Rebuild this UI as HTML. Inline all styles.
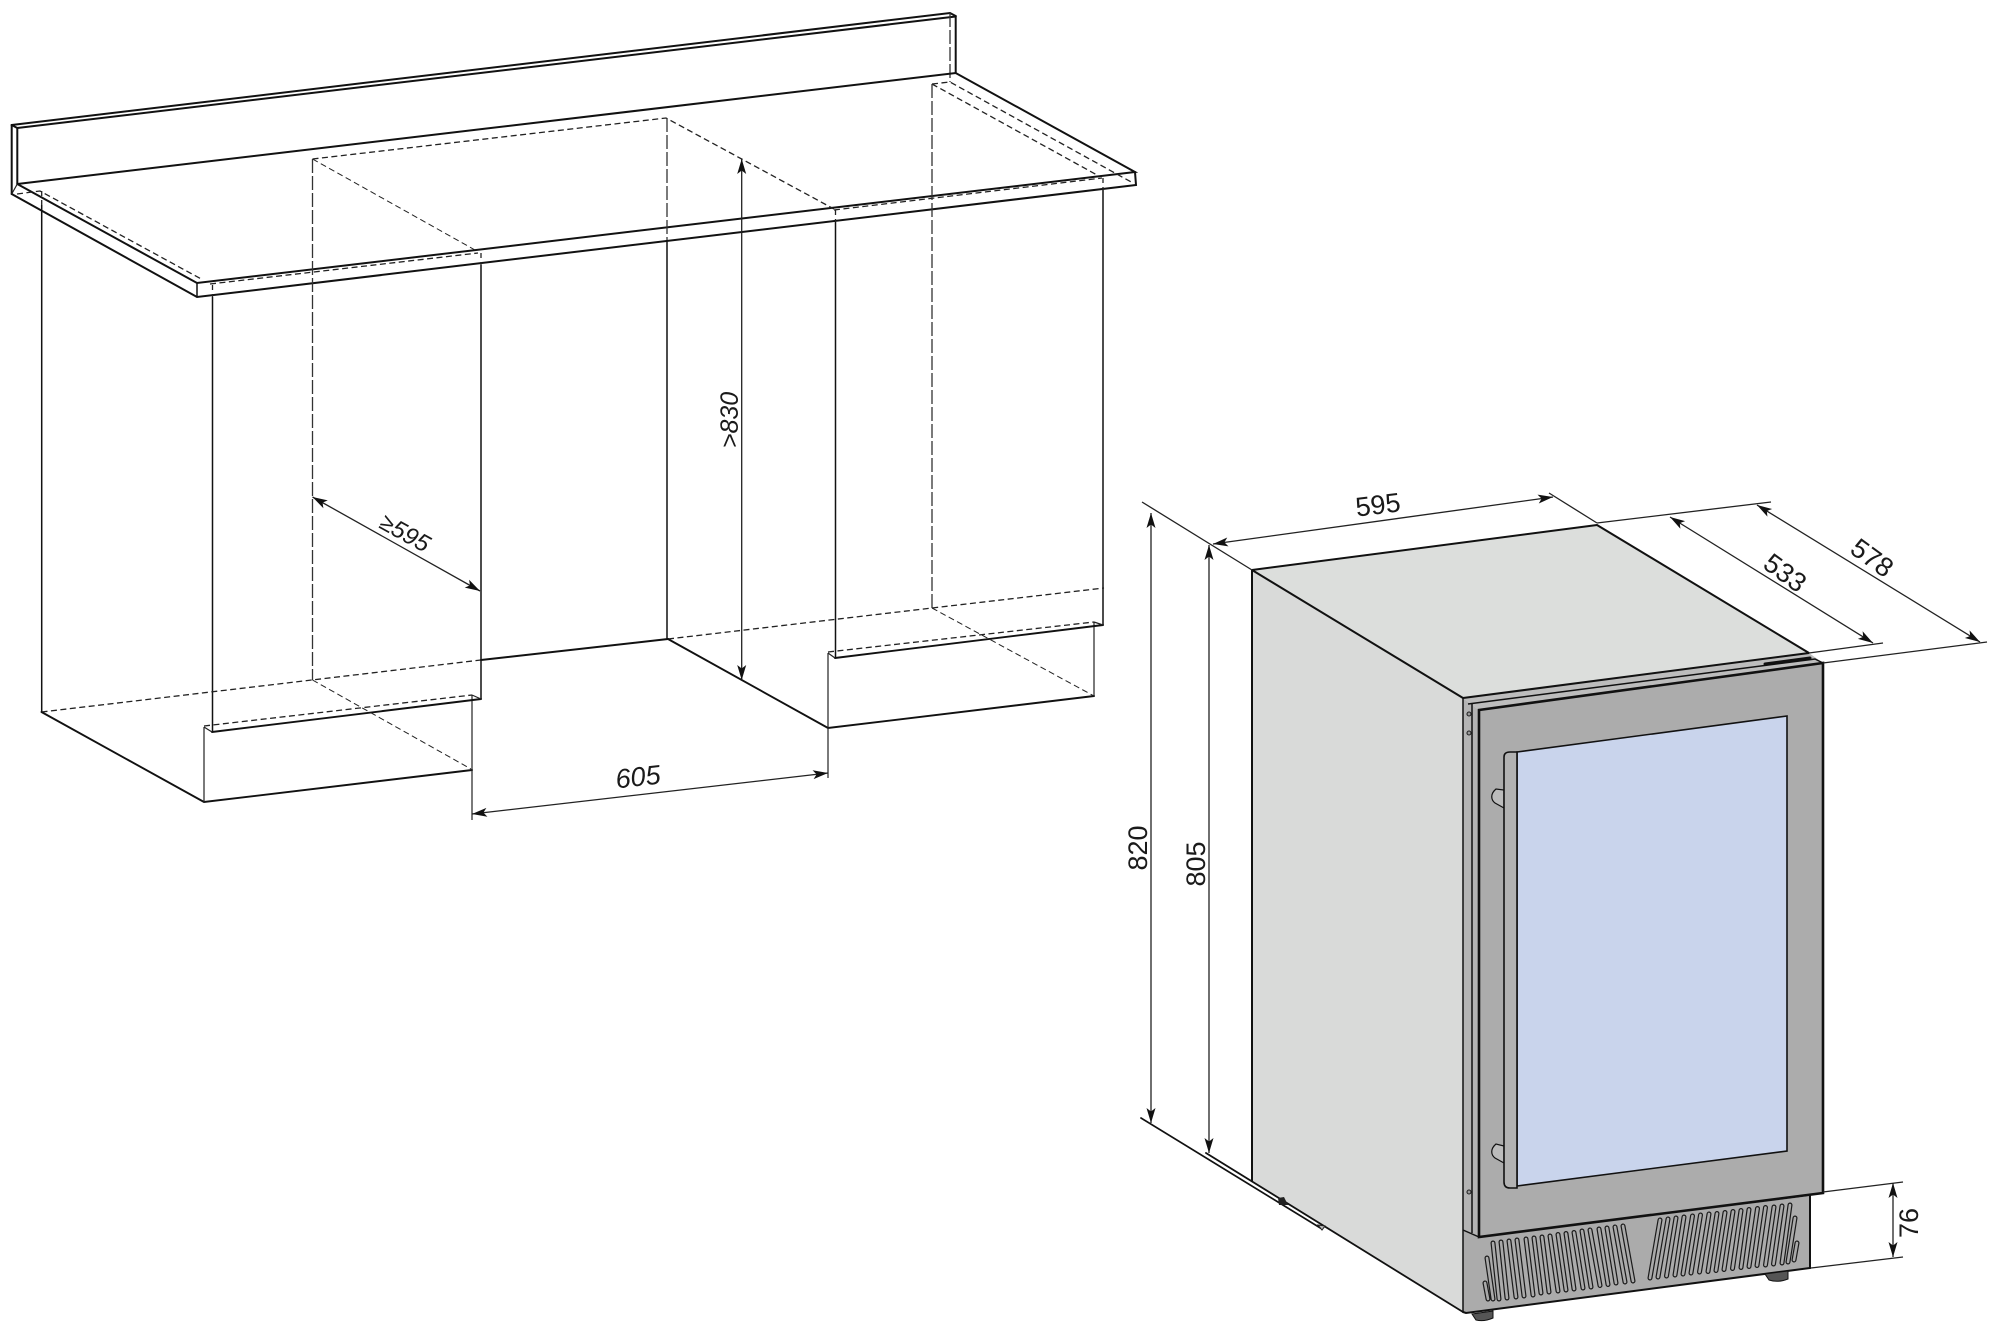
<!DOCTYPE html>
<html><head><meta charset="utf-8"><title>Installation diagram</title>
<style>
html,body{margin:0;padding:0;background:#fff;}
svg{display:block;}
text{font-family:"Liberation Sans",sans-serif;fill:#1a1a1a;text-anchor:middle;}
.k{stroke:#111;stroke-width:2;fill:none;stroke-linecap:round;}
.s{stroke:#111;stroke-width:1.5;fill:none;}
.t{stroke:#222;stroke-width:1.2;fill:none;}
.d{stroke:#222;stroke-width:1.3;fill:none;stroke-dasharray:6 3.5;}
.l{stroke:#333;stroke-width:1.3;fill:none;stroke-dasharray:14 3;}
.a{stroke:#222;stroke-width:1.3;fill:none;marker-start:url(#ar);marker-end:url(#ar);}
.e{stroke:#222;stroke-width:1.3;fill:none;}
.p{stroke:#111;stroke-width:2;stroke-linejoin:round;}
</style></head>
<body>
<svg width="2000" height="1332" viewBox="0 0 2000 1332" xmlns="http://www.w3.org/2000/svg">
<defs>
<marker id="ar" markerUnits="userSpaceOnUse" markerWidth="24" markerHeight="14" refX="18" refY="7" orient="auto-start-reverse" overflow="visible">
<path d="M18,7 L3,2.5 L6.5,7 L3,11.5 Z" fill="#111"/>
</marker>
</defs>
<rect width="2000" height="1332" fill="#fff"/>

<!-- LEFT: counter -->
<g>
<path class="k" d="M11.7,125 L950,13 L955.7,16"/>
<path class="k" d="M17.3,128 L955.7,16.5"/>
<path class="k" d="M11.7,125 L17.3,128"/>
<path class="k" d="M11.7,125 V194 M17.3,128 V184"/>
<path class="k" d="M955.7,16 V73"/>
<path class="l" d="M950,13 V82"/>
<path class="k" d="M17.3,184 L955.7,73 L1135,172 L197,283 L17.3,184"/>
<path class="k" d="M11.7,194 L197,297 L1136,185 L1135,172"/>
<path class="t" d="M11.7,194 L17.3,184"/>
<path class="s" d="M197,283 V297"/>

<path class="d" d="M17,194 L40,191 L203,280"/>
<path class="d" d="M210,284 L478,253"/>
<path class="d" d="M834,210 L1102,178"/>
<path class="d" d="M312.5,159 L666,118 L834,209"/>
<path class="d" style="stroke-width:1" d="M312.5,159 L475,250"/>
<path class="d" d="M932,84 L950,82 L1133,183"/>
<path class="d" d="M932,84 L1097,175"/>
<path class="l" d="M312.5,159 V680"/>
<path class="l" d="M667,118 V240"/>
<path class="l" d="M932,84 V608"/>

<path class="d" style="stroke-dasharray:5 4" d="M41.7,191 V205"/>
<path class="s" d="M41.7,205 V712"/>
<path class="d" style="stroke-dasharray:5 4" d="M212.5,285 V297"/>
<path class="s" d="M212.5,297 V731"/>
<path class="d" style="stroke-dasharray:5 4" d="M481,253 V265"/>
<path class="s" d="M481,265 V699"/>
<path class="s" d="M667,240 V639"/>
<path class="d" style="stroke-dasharray:5 4" d="M835.5,210 V222"/>
<path class="s" d="M835.5,222 V657"/>
<path class="d" style="stroke-dasharray:5 4" d="M1103,178 V190"/>
<path class="s" d="M1103,190 V625"/>

<path class="d" d="M41.5,712 L481,660"/>
<path class="k" d="M481,660 L668,639"/>
<path class="d" d="M668,639 L932,608 L1104,588"/>
<path class="k" style="stroke-width:1.9" d="M41.5,712 L204,802 L472,770"/>
<path class="k" style="stroke-width:1.9" d="M668,639 L828,728 L1094,696"/>
<path class="t" d="M204,727 V802 M472,695 V820"/>
<path class="t" d="M828,653 V778 M1094,622 V696"/>
<path class="d" d="M204,726 L472,695"/>
<path class="k" style="stroke-width:1.9" d="M212,732 L481,699"/>
<path class="t" d="M204,727 L212,732 M472,695 L481,699"/>
<path class="d" d="M828,652 L1094,622"/>
<path class="k" style="stroke-width:1.9" d="M835,658 L1103,625"/>
<path class="t" d="M828,653 L835,658 M1094,622 L1103,625"/>
<path class="d" style="stroke-width:1" d="M312.5,680 L471,769"/>
<path class="d" style="stroke-width:1" d="M932,608 L1094,696"/>

<path class="a" d="M741.7,159 V680"/>
<path class="a" d="M312.5,497 L480,591"/>
<path class="a" d="M472,814 L828,773"/>
<text font-size="25" font-style="italic" transform="translate(729,420) rotate(-90)" y="9">&gt;830</text>
<text font-size="24" font-style="italic" transform="translate(405,533) rotate(29)" y="8">≥595</text>
<text font-size="27" font-style="italic" transform="translate(638,777) rotate(-6.5)" y="9">605</text>
</g>

<!-- RIGHT: appliance -->
<g>
<polygon points="1252,570 1463,698 1463,1312 1252,1182" fill="#d9dad9"/>
<polygon points="1252,570 1597,525 1809,653 1463,698" fill="#dcdedc"/>
<polygon points="1463,698 1809,653 1823,663 1479,710" fill="#bdbdbd"/>
<polygon points="1463,698 1479,710 1479,1237 1463,1230" fill="#b4b4b4"/>
<polygon points="1463,1230 1479,1237 1810,1196 1810,1268 1466,1313 1463,1312" fill="#ababab"/>
<polygon points="1479,710 1823,663 1823,1193 1479,1237" fill="#acacac"/>
<polygon points="1517,752 1787,716 1787,1151 1517,1186" fill="#c9d4ec" stroke="#111" stroke-width="1.6"/>

<path class="p" fill="none" d="M1252,570 L1597,525 L1809,653"/>
<path class="p" fill="none" d="M1252,570 V1182"/>
<path class="p" fill="none" stroke-width="1.6" d="M1252,570 L1463,698 L1809,653"/>
<path class="s" d="M1463,698 V1312 M1472,703 V1233"/>
<path class="s" d="M1468,704 L1815,659 L1823,663"/>
<path class="k" style="stroke-width:3" d="M1765,664 L1810,658"/>
<path class="k" style="stroke-width:2.6" d="M1479,710 L1823,663 V1193 L1479,1237 Z"/>
<path class="k" d="M1810,1196 V1268 L1466,1313 L1463,1312"/>
<path class="s" d="M1463,1230 L1479,1237"/>

<!-- handle -->
<path d="M1496,789 C1490,794 1491,800 1495,803 L1504,808 V790 Z" fill="#bcbcbc" stroke="#111" stroke-width="1.2"/>
<path d="M1496,1144 C1490,1149 1491,1155 1495,1158 L1504,1163 V1146 Z" fill="#bcbcbc" stroke="#111" stroke-width="1.2"/>
<path d="M1504,757 Q1504,752 1510,752 L1517,752 V1188 L1510,1188 Q1504,1188 1504,1182 Z" fill="#b2b2b2" stroke="#111" stroke-width="1.6"/>

<!-- screws -->
<g fill="#999" stroke="#222" stroke-width="1.1">
<circle cx="1469" cy="714" r="2"/><circle cx="1469" cy="733" r="2"/><circle cx="1469" cy="1192" r="2"/>
</g>

<!-- feet -->
<path d="M1472,1314 L1493,1311 V1318 Q1484,1322 1476,1320 Z" fill="#555" stroke="#111" stroke-width="1"/>
<path d="M1765,1274 L1788,1271 V1279 Q1778,1283 1769,1280 Z" fill="#555" stroke="#111" stroke-width="1"/>

<!-- vents -->
<path id="v" fill="none" stroke="#1a1a1a" stroke-width="5" stroke-linecap="round" d="M1493,1243L1499,1299M1501,1242L1507,1298M1509,1241L1516,1297M1517,1240L1524,1296M1526,1239L1533,1295M1534,1238L1541,1293M1542,1237L1549,1292M1550,1236L1558,1291M1558,1234.5L1566,1290M1566,1233.5L1574,1289M1574,1232.5L1583,1288M1582,1231L1591,1287M1590,1230L1600,1285.5M1599,1229L1608,1284.5M1607,1228L1616,1283M1615,1227L1625,1282M1623,1226L1633,1281M1487,1258L1493,1299M1485,1283L1488,1299M1660,1220L1650,1278M1668,1219L1658,1277M1676,1218L1666.5,1276M1684,1217L1675,1275M1692.5,1216L1683,1274M1700.5,1215L1691,1273M1709,1214L1699.5,1272M1717,1213.5L1708,1271.5M1725,1212.5L1716,1270.5M1733,1211.5L1724,1269.5M1741,1210.5L1732.5,1268.5M1749,1209.5L1741,1267.5M1757.5,1208.5L1749,1266.5M1765.5,1207.5L1757,1265.5M1774,1207L1765.5,1265M1782,1206L1773.5,1264M1790,1205L1782,1263M1795,1218L1788,1262M1797,1243L1794,1260"/>
<path fill="none" stroke="#a9a9a9" stroke-width="2.6" stroke-linecap="round" d="M1493,1243L1499,1299M1501,1242L1507,1298M1509,1241L1516,1297M1517,1240L1524,1296M1526,1239L1533,1295M1534,1238L1541,1293M1542,1237L1549,1292M1550,1236L1558,1291M1558,1234.5L1566,1290M1566,1233.5L1574,1289M1574,1232.5L1583,1288M1582,1231L1591,1287M1590,1230L1600,1285.5M1599,1229L1608,1284.5M1607,1228L1616,1283M1615,1227L1625,1282M1623,1226L1633,1281M1487,1258L1493,1299M1485,1283L1488,1299M1660,1220L1650,1278M1668,1219L1658,1277M1676,1218L1666.5,1276M1684,1217L1675,1275M1692.5,1216L1683,1274M1700.5,1215L1691,1273M1709,1214L1699.5,1272M1717,1213.5L1708,1271.5M1725,1212.5L1716,1270.5M1733,1211.5L1724,1269.5M1741,1210.5L1732.5,1268.5M1749,1209.5L1741,1267.5M1757.5,1208.5L1749,1266.5M1765.5,1207.5L1757,1265.5M1774,1207L1765.5,1265M1782,1206L1773.5,1264M1790,1205L1782,1263M1795,1218L1788,1262M1797,1243L1794,1260"/>

<!-- extension lines -->
<path class="e" d="M1142,502 L1252,570"/>
<path class="e" d="M1549,493 L1597,523"/>
<path class="e" d="M1597,523 L1771,502"/>
<path class="e" d="M1809,653 L1883,643"/>
<path class="e" d="M1823,663 L1987,642"/>
<path class="k" style="stroke-width:1.7" d="M1141,1118 L1322,1229"/>
<path class="k" style="stroke-width:1.8" d="M1206,1153 L1463,1312"/>
<path d="M1278,1198 L1284,1197 L1288,1205 L1279,1205 Z" fill="#222"/>
<path d="M1318,1225 L1325,1226 L1322,1230 Z" fill="#bbb" stroke="#222" stroke-width="1"/>
<path class="e" d="M1823,1192 L1903,1182"/>
<path class="e" d="M1811,1268 L1903,1257"/>

<path class="a" d="M1151,513 V1123"/>
<path class="a" d="M1209,545 V1153"/>
<path class="a" d="M1213,544 L1553,497"/>
<path class="a" d="M1670,517 L1873,643"/>
<path class="a" d="M1757,505 L1980,642"/>
<path class="a" d="M1893,1183 V1257"/>

<text font-size="27" transform="translate(1378,505) rotate(-7)" y="9">595</text>
<text font-size="27" transform="translate(1785,573) rotate(36)" y="9">533</text>
<text font-size="27" transform="translate(1872,558) rotate(36)" y="9">578</text>
<text font-size="27" transform="translate(1138,848) rotate(-90)" y="9">820</text>
<text font-size="27" transform="translate(1196,864) rotate(-90)" y="9">805</text>
<text font-size="27" transform="translate(1909,1223) rotate(-90)" y="9">76</text>
</g>
</svg>
</body></html>
